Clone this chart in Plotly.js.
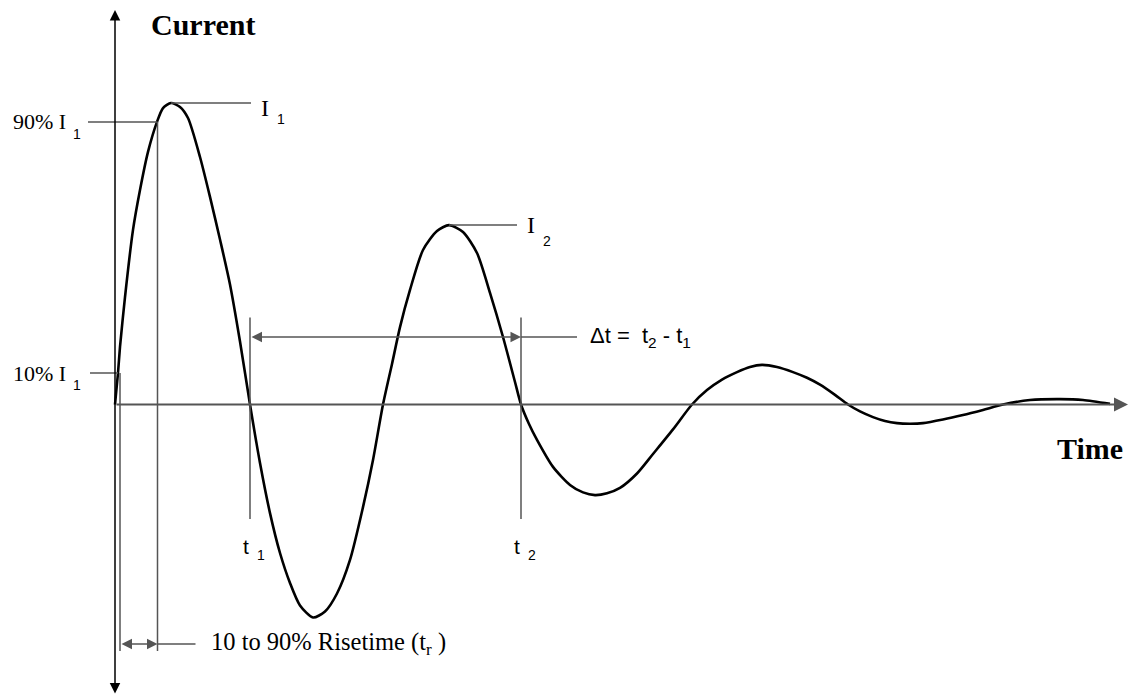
<!DOCTYPE html>
<html>
<head>
<meta charset="utf-8">
<script src="https://cdn.plot.ly/plotly-3.0.1.min.js"></script>
<style>
  html, body { margin: 0; padding: 0; background: #ffffff; }
  #chart { width: 1133px; height: 698px; }
</style>
</head>
<body>
<div id="chart"></div>
<script>
// damped current pulse, time in arbitrary units, current in % of I1
const time = [0, 0.3, 0.5, 1.0, 1.8, 2.5, 3.3, 4.2, 4.8, 5.6, 6.5, 7.3, 8.5, 9.5, 10.5, 11.5, 12.5, 13.5,
    14.5, 15.5, 16.5, 17.5, 18.5, 19.8, 21.0, 22.2, 23.5, 24.8, 25.8, 26.8,
    27.7, 28.5, 29.5, 30.8, 32.2, 33.4, 34.8, 36.2, 37.5, 38.8, 40.0, 40.6,
    41.4, 42.2, 43.8, 45.5, 46.8, 48.0, 49.2, 50.5, 52.2, 53.8, 55.8, 57.7,
    59.2, 60.7, 62.2, 63.5, 64.7, 66.2, 67.8, 69.2, 70.5, 72.0, 73.3,
    74.5, 75.8, 77.0, 78.2, 79.5, 80.8, 82.8, 84.8, 86.8, 88.8, 91.5, 94.5, 96.8, 99.5];
const current = [0, 10.5, 19.2, 35.8, 58.2, 71.5, 84.2, 94.2, 98.8, 100.5, 99.2, 95.5, 82.5, 69.2, 55.0, 40.0, 21.0, 0,
    -19.5, -36.2, -49.5, -59.5, -67.0, -71.0, -69.0, -63.0, -51.8, -34.2, -18.5, 0,
    13.5, 25.8, 38.2, 51.5, 57.8, 59.8, 57.5, 50.5, 37.2, 22.5, 7.5, 0,
    -6.5, -11.8, -20.8, -26.8, -29.3, -30.2, -29.6, -27.8, -23.0, -16.5, -8.3, 0,
    4.8, 8.3, 10.8, 12.5, 13.2, 12.5, 10.8, 8.9, 6.6, 3.2, 0,
    -2.3, -4.2, -5.5, -6.2, -6.4, -6.2, -5.0, -3.5, -1.8, 0, 1.5, 1.8, 1.5, 0.2];

// 10% and 90% points of the first rise
const riseTimes = [0.5, 4.25];
const riseLevels = [10.5, 94.2];
const riseNames = ['10% I', '90% I'];

// first two peaks
const peakTimes = [5.6, 33.4];
const peakValues = [100.5, 59.8];
const peakSubs = ['1', '2'];

// zero crossings t1 and t2
const crossTimes = [13.5, 40.6];
const crossSubs = ['1', '2'];

const xRange = [-11.5, 101.8];
const yRange = [-97.83, 134.83];
const axisTop = 131.5;
const axisBottom = -96.8;
const axisEnd = 101.3;
const dtLevel = 22.5;
const riseArrowLevel = -79.8;

const serif = 'Liberation Serif, Times New Roman, serif';
const sans = 'Liberation Sans, Arial, sans-serif';
const lineGray = '#555555';

const shapes = [];
const annotations = [];

function vline(x, y0, y1) {
    shapes.push({ type: 'line', xref: 'x', yref: 'y', x0: x, x1: x, y0: y0, y1: y1,
        line: { color: lineGray, width: 1.5 } });
}
function hline(y, x0, x1) {
    shapes.push({ type: 'line', xref: 'x', yref: 'y', x0: x0, x1: x1, y0: y, y1: y,
        line: { color: lineGray, width: 1.5 } });
}
function arrow(x, y, ax, ay, side, color, width) {
    annotations.push({ x: x, y: y, ax: ax, ay: ay, xref: 'x', yref: 'y', axref: 'x', ayref: 'y',
        text: '', showarrow: true, arrowhead: 2, arrowsize: 1.4, arrowwidth: width,
        arrowcolor: color, arrowside: side, standoff: 0, startstandoff: 0 });
}
function label(text, x, y, font, size, weight) {
    annotations.push({ x: x, y: y, xref: 'x', yref: 'y', text: text, showarrow: false,
        xanchor: 'left', yanchor: 'middle', borderpad: 0,
        font: { family: font, size: size, color: '#000000', weight: weight || 'normal' } });
}

// axes with arrows
arrow(0, axisTop, 0, axisBottom, 'end+start', '#000000', 1.5);
arrow(axisEnd, 0, 0, 0, 'end', lineGray, 2);

// rise time markers
vline(riseTimes[0], riseLevels[0], riseArrowLevel - 2.4);
vline(riseTimes[1], riseLevels[1], riseArrowLevel - 2.4);
hline(riseLevels[1], -2.7, riseTimes[1]);
hline(riseLevels[0], -2.5, riseTimes[0] - 0.2);
arrow(riseTimes[1], riseArrowLevel, riseTimes[0], riseArrowLevel, 'end+start', lineGray, 1.5);
hline(riseArrowLevel, riseTimes[1], riseTimes[1] + 3.8);
label('10 to 90% Risetime (t<sub>r</sub> )', riseTimes[1] + 5.2, riseArrowLevel, serif, 24.5);

riseNames.forEach((name, i) => {
    label(name, -10.3, riseLevels[i], serif, 22);
    label('1', -4.3, riseLevels[i] - 4, sans, 14);
});

// peaks
peakTimes.forEach((t, i) => {
    const len = i === 0 ? 8 : 6.8;
    hline(peakValues[i], t, t + len);
    label('I', t + len + 0.9, peakValues[i] - 1.6 * (i === 0 ? 1 : 0), serif, 24);
    label(peakSubs[i], t + len + 2.5, peakValues[i] - 5.2, sans, 14);
});

// zero crossings t1, t2 and delta t
crossTimes.forEach((t, i) => {
    vline(t, 29, -38.2);
    label('t', t - 0.8, -47.2, sans, 21);
    label(crossSubs[i], t + 0.6, -50, sans, 14);
});
arrow(crossTimes[1], dtLevel, crossTimes[0], dtLevel, 'end+start', lineGray, 1.5);
hline(dtLevel, crossTimes[1], crossTimes[1] + 5.6);
label('\u0394t =  t<sub>2</sub> - t<sub>1</sub>', crossTimes[1] + 6.8, dtLevel, sans, 22);

// axis names
label('Current', 3.5, 126.8, serif, 30, 'bold');
label('Time', 94.1, -14.8, serif, 30, 'bold');

Plotly.newPlot('chart', [{
    x: time,
    y: current,
    mode: 'lines',
    type: 'scatter',
    line: { color: '#000000', width: 2.6, shape: 'spline', smoothing: 0.7 },
    hoverinfo: 'skip',
    showlegend: false,
}], {
    width: 1133,
    height: 698,
    margin: { t: 0, r: 0, b: 0, l: 0 },
    xaxis: { range: xRange, visible: false, fixedrange: true },
    yaxis: { range: yRange, visible: false, fixedrange: true },
    shapes: shapes,
    annotations: annotations,
    paper_bgcolor: '#ffffff',
    plot_bgcolor: '#ffffff',
}, {
    displayModeBar: false,
    staticPlot: true,
});
</script>
</body>
</html>
